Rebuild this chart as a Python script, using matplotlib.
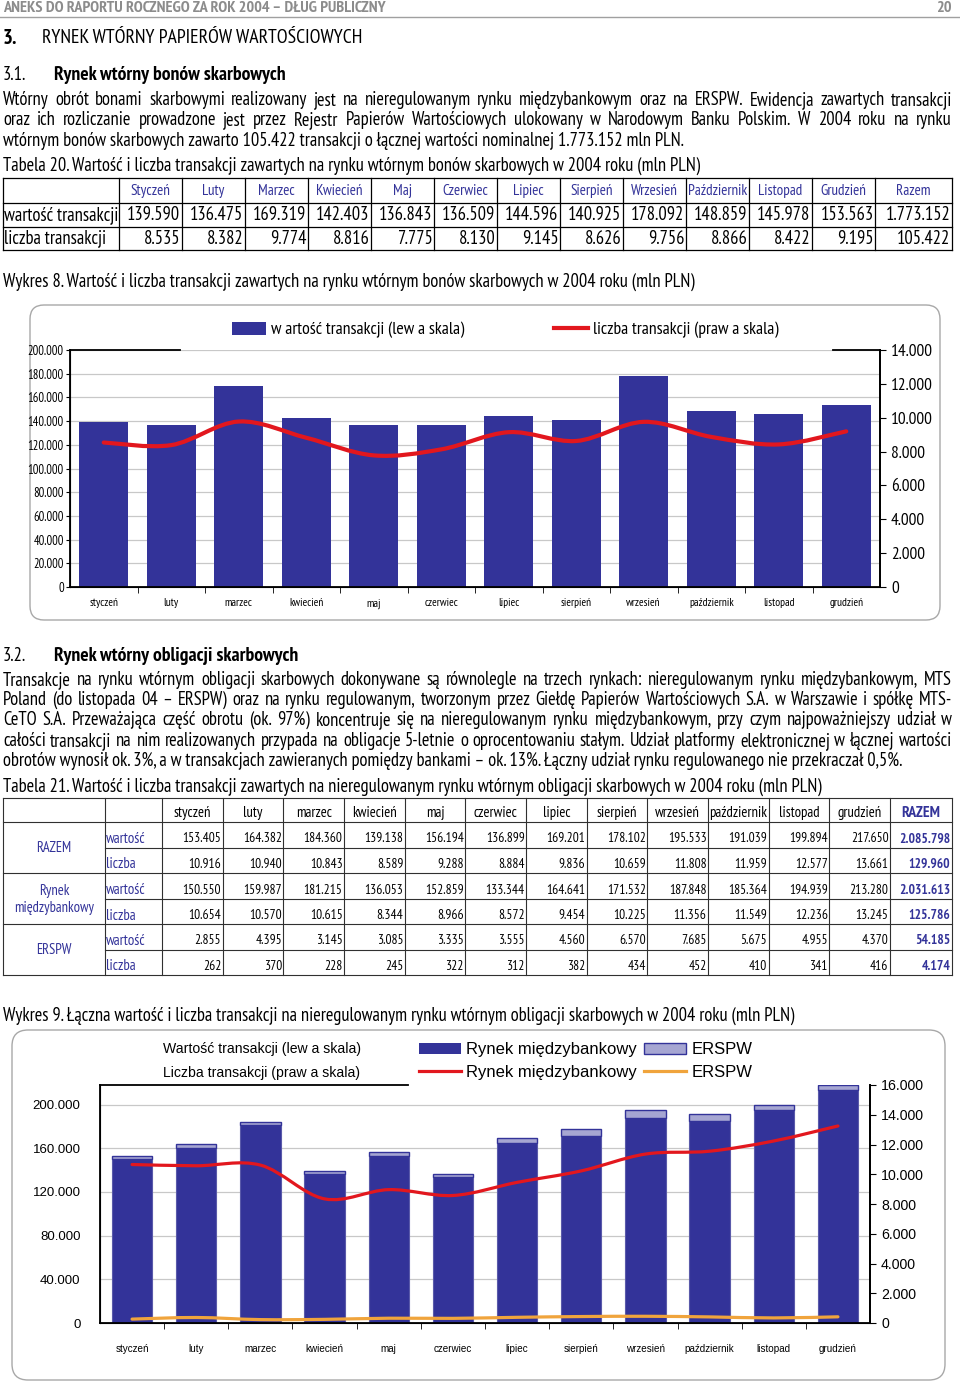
import numpy as np
import matplotlib
matplotlib.use('Agg')
import matplotlib.pyplot as plt
from matplotlib import font_manager as fm
from matplotlib.patches import FancyBboxPatch, Patch, PathPatch
from matplotlib.lines import Line2D
from matplotlib.path import Path

# ---- data -------------------------------------------------------------
months = ['styczeń', 'luty', 'marzec', 'kwiecień', 'maj', 'czerwiec', 'lipiec',
          'sierpień', 'wrzesień', 'październik', 'listopad', 'grudzień']

# Tabela 20 / Wykres 8 (bony skarbowe)
bony_wartosc = [139590, 136475, 169319, 142403, 136843, 136509, 144596,
                140925, 178092, 148859, 145978, 153563]
bony_liczba = [8535, 8382, 9774, 8816, 7775, 8130, 9145, 8626, 9756, 8866, 8422, 9195]
bony_razem = [1773152, 105422]

# Tabela 21 / Wykres 9 (obligacje skarbowe)
razem_wartosc = [153405, 164382, 184360, 139138, 156194, 136899, 169201,
                 178102, 195533, 191039, 199894, 217650]
razem_liczba = [10916, 10940, 10843, 8589, 9288, 8884, 9836, 10659, 11808, 11959, 12577, 13661]
mb_wartosc = [150550, 159987, 181215, 136053, 152859, 133344, 164641,
              171532, 187848, 185364, 194939, 213280]
mb_liczba = [10654, 10570, 10615, 8344, 8966, 8572, 9454, 10225, 11356, 11549, 12236, 13245]
erspw_wartosc = [2855, 4395, 3145, 3085, 3335, 3555, 4560, 6570, 7685, 5675, 4955, 4370]
erspw_liczba = [262, 370, 228, 245, 322, 312, 382, 434, 452, 410, 341, 416]
t21_razem = [2085798, 129960, 2031613, 125786, 54185, 4174]

# ---- fonts / colours --------------------------------------------------
installed = {f.name for f in fm.fontManager.ttflist}
NARROW = next((n for n in ['Liberation Sans Narrow', 'Arial Narrow', 'PT Sans Narrow',
                           'Roboto Condensed', 'Archivo Narrow', 'Asap Condensed']
               if n in installed), 'DejaVu Sans')
ARIAL = 'Liberation Sans'
plt.rcParams['font.family'] = [NARROW, 'DejaVu Sans']

BLUE = '#333399'
RED = '#e2171e'
ORANGE = '#f0a43c'
LAV = '#a6a6d2'

W, H = 960, 1385
fig = plt.figure(figsize=(W / 100, H / 100), dpi=100)
page = fig.add_axes([0, 0, 1, 1])
page.set_xlim(0, W)
page.set_ylim(H, 0)
page.axis('off')
R = fig.canvas.get_renderer()


def fit(s, width, family=None, weight='normal'):
    # font size that makes s as wide as in the scanned page
    t = fig.text(0, 0, s, fontsize=10, family=family or [NARROW, 'DejaVu Sans'], weight=weight)
    w = t.get_window_extent(R).width
    t.remove()
    return 10 * width / w


def fmt(v):
    return f"{v:,}".replace(',', '.')


def txt(x, y, s, size, **kw):
    kw.setdefault('va', 'center')
    return page.text(x, y, s, fontsize=size, **kw)


def justify(line, y, size, x0=3, x1=952):
    words = line.split()
    objs = [txt(0, y, w, size) for w in words]
    widths = [o.get_window_extent(R).width for o in objs]
    gap = (x1 - x0 - sum(widths)) / (len(words) - 1)
    x = x0
    for o, w in zip(objs, widths):
        o.set_x(x)
        x += w + gap


def px_axes(x0, y0, x1, y1):
    return fig.add_axes([x0 / W, 1 - y1 / H, (x1 - x0) / W, (y1 - y0) / H])


def smooth_line(ax, xs, ys, **kw):
    pts = np.column_stack([xs, ys]).astype(float)
    ext = np.vstack([pts[0], pts, pts[-1]])
    verts, codes = [pts[0]], [Path.MOVETO]
    for i in range(len(pts) - 1):
        p0, p1, p2, p3 = ext[i], ext[i + 1], ext[i + 2], ext[i + 3]
        verts += [p1 + (p2 - p0) / 6, p2 - (p3 - p1) / 6, p2]
        codes += [Path.CURVE4] * 3
    ax.add_patch(PathPatch(Path(verts, codes), fill=False, capstyle='round', **kw))


cap20 = ('Tabela 20. Wartość i liczba transakcji zawartych na rynku wtórnym bonów '
         'skarbowych w 2004 roku (mln PLN)')
BODY = fit(cap20, 703)
HEAD20 = fit('Październik', 60)

# ---- page header & text -----------------------------------------------
top = 'ANEKS DO RAPORTU ROCZNEGO ZA ROK 2004 – DŁUG PUBLICZNY'
TOPS = fit(top, 382, weight='bold')
txt(3, 8, top, TOPS, color='#8c8c8c', weight='bold')
txt(952, 8, '20', TOPS, color='#8c8c8c', ha='right', weight='bold')
page.plot([0, W], [17, 17], color='#a0a0a0', lw=1)

h3 = 'RYNEK WTÓRNY PAPIERÓW WARTOŚCIOWYCH'
txt(3, 38, '3.', fit(h3, 321) * 1.05, weight='bold')
txt(42, 38, h3, fit(h3, 321))
h31 = 'Rynek wtórny bonów skarbowych'
txt(3, 75, '3.1.', BODY)
txt(54, 75, h31, fit(h31, 232, weight='bold'), weight='bold')

justify('Wtórny obrót bonami skarbowymi realizowany jest na nieregulowanym rynku '
        'międzybankowym oraz na ERSPW. Ewidencja zawartych transakcji', 100, BODY)
justify('oraz ich rozliczanie prowadzone jest przez Rejestr Papierów Wartościowych '
        'ulokowany w Narodowym Banku Polskim. W 2004 roku na rynku', 120, BODY)
txt(3, 141, 'wtórnym bonów skarbowych zawarto 105.422 transakcji o łącznej wartości '
    'nominalnej 1.773.152 mln PLN.', BODY)
txt(3, 166, cap20, BODY)

# ---- Tabela 20 --------------------------------------------------------
t20_x = [3] + list(np.linspace(119, 875, 13)) + [952]
t20_y = [178, 203, 227, 250]
for yy in t20_y:
    page.plot([3, 952], [yy, yy], color='black', lw=0.9)
for xx in t20_x:
    page.plot([xx, xx], [178, 250], color='black', lw=0.9)
for i, m in enumerate(months + ['razem']):
    txt((t20_x[i + 1] + t20_x[i + 2]) / 2, 191, m.capitalize(), HEAD20,
        color=BLUE, ha='center')
rows20 = [('wartość transakcji', bony_wartosc + [bony_razem[0]]),
          ('liczba transakcji', bony_liczba + [bony_razem[1]])]
for r, (lab, vals) in enumerate(rows20):
    yc = (t20_y[r + 1] + t20_y[r + 2]) / 2
    txt(4, yc, lab, BODY)
    for i, v in enumerate(vals):
        txt(t20_x[i + 2] - 1.5, yc, fmt(v), BODY, ha='right')

txt(3, 282, 'Wykres 8. Wartość i liczba transakcji zawartych na rynku wtórnym bonów '
    'skarbowych w 2004 roku (mln PLN)', BODY)

# ---- Wykres 8 ---------------------------------------------------------
page.add_patch(FancyBboxPatch((30, 305), 910, 315, boxstyle='round,pad=0,rounding_size=14',
                              fc='none', ec='#a8a8a8', lw=1))
x = np.arange(12)
ax = px_axes(70, 350, 880, 587)
ax.set_facecolor('none')
ax.bar(x, bony_wartosc, width=0.72, color=BLUE, zorder=2)
ax.set_xlim(-0.5, 11.5)
ax.set_ylim(0, 200000)
ax.set_yticks(range(0, 200001, 20000))
ax.set_yticklabels([fmt(v) for v in range(0, 200001, 20000)])
ax.yaxis.grid(True, color='#c8c8c8', lw=0.9)
ax.set_axisbelow(True)
ax.tick_params(axis='y', labelsize=fit('200.000', 36), length=3, pad=1.5)
ax.set_xticks(x)
ax.set_xticklabels(months, fontsize=fit('październik', 45))
ax.set_xticks(x[:-1] + 0.5, minor=True)
ax.tick_params(axis='x', which='major', length=0, pad=8)
ax.tick_params(axis='x', which='minor', length=4)
for s in ['left', 'bottom', 'right']:
    ax.spines[s].set_linewidth(1.3)
ax.spines['top'].set_visible(False)
ax.plot([0, 0.136], [1, 1], transform=ax.transAxes, color='black', lw=1.3, clip_on=False)
ax.plot([0.942, 1], [1, 1], transform=ax.transAxes, color='black', lw=1.3, clip_on=False)

ax2 = ax.twinx()
ax2.set_ylim(0, 14000)
ax2.set_yticks(range(0, 14001, 2000))
ax2.set_yticklabels([fmt(v) for v in range(0, 14001, 2000)])
ax2.tick_params(axis='y', labelsize=fit('14.000', 42), length=4, pad=4)
ax2.spines['top'].set_visible(False)
ax2.spines['right'].set_linewidth(1.3)
smooth_line(ax2, x, bony_liczba, color=RED, lw=3, zorder=3)

leg8 = ['w artość transakcji (lew a skala)', 'liczba transakcji (praw a skala)']
fs8 = fit(leg8[0], 195)
fig.legend(handles=[Patch(facecolor=BLUE), Line2D([], [], color=RED, lw=3)],
           labels=leg8, ncol=2, loc='center', bbox_to_anchor=(505 / W, 1 - 330 / H),
           frameon=False, fontsize=fs8, handlelength=34 / (fs8 * 1.389),
           handleheight=0.8, handletextpad=5 / (fs8 * 1.389),
           columnspacing=93 / (fs8 * 1.389) - 0.2)

# ---- section 3.2 ------------------------------------------------------
h32 = 'Rynek wtórny obligacji skarbowych'
txt(3, 656, '3.2.', BODY)
txt(54, 656, h32, fit(h32, 244, weight='bold'), weight='bold')
justify('Transakcje na rynku wtórnym obligacji skarbowych dokonywane są równolegle na '
        'trzech rynkach: nieregulowanym rynku międzybankowym, MTS', 680, BODY)
justify('Poland (do listopada 04 – ERSPW) oraz na rynku regulowanym, tworzonym przez '
        'Giełdę Papierów Wartościowych S.A. w Warszawie i spółkę MTS-', 700, BODY)
justify('CeTO S.A. Przeważająca część obrotu (ok. 97%) koncentruje się na nieregulowanym '
        'rynku międzybankowym, przy czym najpoważniejszy udział w', 720, BODY)
justify('całości transakcji na nim realizowanych przypada na obligacje 5-letnie o '
        'oprocentowaniu stałym. Udział platformy elektronicznej w łącznej wartości', 741, BODY)
txt(3, 761, 'obrotów wynosił ok. 3%, a w transakcjach zawieranych pomiędzy bankami – ok. 13%. '
    'Łączny udział rynku regulowanego nie przekraczał 0,5%.', BODY)
txt(3, 787, 'Tabela 21. Wartość i liczba transakcji zawartych na nieregulowanym rynku wtórnym '
    'obligacji skarbowych w 2004 roku (mln PLN)', BODY)

# ---- Tabela 21 --------------------------------------------------------
NUM21 = fit('153.405', 39)
HD21 = fit('styczeń', 38)
SUB21 = fit('wartość', 40)
GRP21 = fit('międzybankowy', 80)
t21_x = [3, 105, 162] + list(np.linspace(162, 890, 13))[1:] + [952]
t21_y = [798, 822, 848, 873, 899, 924, 950, 975]
for k, yy in enumerate(t21_y):
    x_start = 105 if k in (2, 4, 6) else 3
    page.plot([x_start, 952], [yy, yy], color='#303030', lw=0.8)
for xx in t21_x:
    page.plot([xx, xx], [798, 975], color='#303030', lw=0.8)
for i, m in enumerate(months):
    txt((t21_x[i + 2] + t21_x[i + 3]) / 2, 813, m, HD21, ha='center')
txt((t21_x[14] + t21_x[15]) / 2, 813, 'RAZEM', HD21 * 1.05, ha='center',
    color=BLUE, weight='bold')

groups = [('RAZEM', razem_wartosc, razem_liczba),
          ('Rynek\nmiędzybankowy', mb_wartosc, mb_liczba),
          ('ERSPW', erspw_wartosc, erspw_liczba)]
for g, (glab, wv, lv) in enumerate(groups):
    txt(54, (t21_y[1 + 2 * g] + t21_y[3 + 2 * g]) / 2 + 1, glab, GRP21, ha='center',
        color=BLUE, linespacing=1.2)
    for j, (sub, vals) in enumerate([('wartość', wv), ('liczba', lv)]):
        yc = (t21_y[1 + 2 * g + j] + t21_y[2 + 2 * g + j]) / 2 + 4
        txt(106, yc, sub, SUB21, color=BLUE)
        for i, v in enumerate(vals):
            txt(t21_x[i + 3] - 1.5, yc, fmt(v), NUM21, ha='right')
        txt(950, yc, fmt(t21_razem[2 * g + j]), NUM21, ha='right', color=BLUE, weight='bold')

txt(3, 1016, 'Wykres 9. Łączna wartość i liczba transakcji na nieregulowanym rynku wtórnym '
    'obligacji skarbowych w 2004 roku (mln PLN)', BODY)

# ---- Wykres 9 ---------------------------------------------------------
page.add_patch(FancyBboxPatch((12, 1030), 933, 350, boxstyle='round,pad=0,rounding_size=16',
                              fc='none', ec='#a8a8a8', lw=1))
bx = px_axes(100, 1085, 870, 1323)
bx.set_facecolor('none')
bx.bar(x, mb_wartosc, width=0.63, color=BLUE, edgecolor='#5a5aaa', lw=0.8, zorder=2)
bx.bar(x, erspw_wartosc, bottom=mb_wartosc, width=0.63, color=LAV, edgecolor=BLUE,
       lw=1, zorder=2)
bx.set_xlim(-0.5, 11.5)
bx.set_ylim(0, 218000)
bx.set_yticks(range(0, 200001, 40000))
bx.set_yticklabels([fmt(v) for v in range(0, 200001, 40000)], family=ARIAL)
bx.yaxis.grid(True, color='#c8c8c8', lw=0.9)
bx.set_axisbelow(True)
bx.tick_params(axis='y', labelsize=fit('200.000', 48, ARIAL), length=0, pad=14)
bx.set_xticks(x)
bx.set_xticklabels(months, fontsize=fit('październik', 50, ARIAL), family=ARIAL)
bx.set_xticks(x[:-1] + 0.5, minor=True)
bx.tick_params(axis='x', which='major', length=0, pad=15)
bx.tick_params(axis='x', which='minor', length=4)
for s in ['left', 'bottom', 'right']:
    bx.spines[s].set_linewidth(1.3)
bx.spines['top'].set_visible(False)
bx.plot([0, 0.40], [1, 1], transform=bx.transAxes, color='black', lw=1.3, clip_on=False)

bx2 = bx.twinx()
bx2.set_ylim(0, 16000)
bx2.set_yticks(range(0, 16001, 2000))
bx2.set_yticklabels([fmt(v) for v in range(0, 16001, 2000)], family=ARIAL)
bx2.tick_params(axis='y', labelsize=fit('16.000', 43, ARIAL), length=4, pad=4)
bx2.spines['top'].set_visible(False)
bx2.spines['right'].set_linewidth(1.3)
smooth_line(bx2, x, mb_liczba, color=RED, lw=2.3, zorder=3)
smooth_line(bx2, x, erspw_liczba, color=ORANGE, lw=2.3, zorder=3)

row9 = ['Wartość transakcji (lew a skala)', 'Liczba transakcji (praw a skala)']
fs9 = fit(row9[0], 198, ARIAL)
txt(163, 1049, row9[0], fs9, family=ARIAL)
txt(163, 1073, row9[1], fs9, family=ARIAL)
fl9 = fit('Rynek międzybankowy', 170, ARIAL)
fig.legend(handles=[Patch(facecolor=BLUE), Line2D([], [], color=RED, lw=2.3),
                    Patch(facecolor=LAV, edgecolor=BLUE), Line2D([], [], color=ORANGE, lw=2.3)],
           labels=['Rynek międzybankowy', 'Rynek międzybankowy', 'ERSPW', 'ERSPW'],
           ncol=2, loc='center left', bbox_to_anchor=(411 / W, 1 - 1061 / H), frameon=False,
           prop={'family': ARIAL, 'size': fl9}, handlelength=42 / (fl9 * 1.389),
           handleheight=0.7, handletextpad=0.3, columnspacing=0.45, labelspacing=0.45,
           borderpad=0)

fig.savefig('out.png', dpi=100)
